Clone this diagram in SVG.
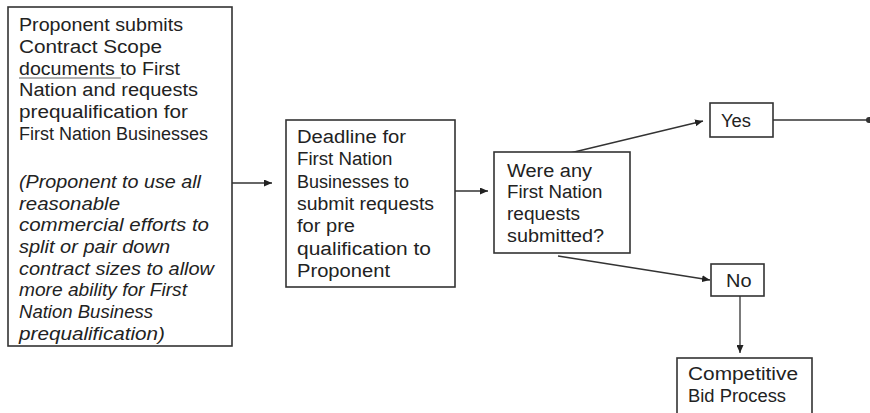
<svg xmlns="http://www.w3.org/2000/svg" width="870" height="413" viewBox="0 0 870 413">
<defs>
<style>
.box{fill:#fff;stroke:#333;stroke-width:1.6}
.t{font-family:"Liberation Sans",Arial,sans-serif;font-size:18px;fill:#222}
.i{font-style:italic}
.c{fill:none;stroke:#333;stroke-width:1.3}
</style>
<marker id="ah" markerUnits="userSpaceOnUse" markerWidth="9" markerHeight="7" refX="8" refY="3.5" orient="auto">
<path d="M0,0 L8,3.5 L0,7 z" fill="#222"/>
</marker>
</defs>
<rect width="870" height="413" fill="#fff"/>
<g id="connectors">
<line class="c" x1="232" y1="183" x2="272" y2="183" marker-end="url(#ah)"/>
<line class="c" x1="455" y1="191" x2="488" y2="191" marker-end="url(#ah)"/>
<line class="c" x1="570" y1="153" x2="703" y2="121" marker-end="url(#ah)"/>
<line class="c" x1="558" y1="256" x2="710" y2="280" marker-end="url(#ah)"/>
<line class="c" x1="773" y1="120" x2="867" y2="120"/>
<circle cx="869" cy="120" r="3" fill="#333"/>
<line class="c" x1="740" y1="296" x2="740" y2="353" marker-end="url(#ah)"/>
</g>
<g id="node-submit">
<rect class="box" x="8" y="7" width="224" height="339"/>
<text class="t" x="19" y="31" textLength="164" lengthAdjust="spacingAndGlyphs">Proponent submits</text>
<text class="t" x="19" y="52.8" textLength="143" lengthAdjust="spacingAndGlyphs">Contract Scope</text>
<text class="t" x="19" y="74.6" textLength="161" lengthAdjust="spacingAndGlyphs">documents to First</text>
<line x1="19" y1="78" x2="121" y2="78" stroke="#999" stroke-width="1.5"/>
<text class="t" x="19" y="96.4" textLength="179" lengthAdjust="spacingAndGlyphs">Nation and requests</text>
<text class="t" x="19" y="118.2" textLength="169" lengthAdjust="spacingAndGlyphs">prequalification for</text>
<text class="t" x="19" y="140" textLength="189" lengthAdjust="spacingAndGlyphs">First Nation Businesses</text>
<text class="t i" x="19" y="188" textLength="182" lengthAdjust="spacingAndGlyphs">(Proponent to use all</text>
<text class="t i" x="19" y="209.6" textLength="101" lengthAdjust="spacingAndGlyphs">reasonable</text>
<text class="t i" x="19" y="231.3" textLength="190" lengthAdjust="spacingAndGlyphs">commercial efforts to</text>
<text class="t i" x="19" y="252.9" textLength="151" lengthAdjust="spacingAndGlyphs">split or pair down</text>
<text class="t i" x="19" y="274.6" textLength="195" lengthAdjust="spacingAndGlyphs">contract sizes to allow</text>
<text class="t i" x="19" y="296.2" textLength="168" lengthAdjust="spacingAndGlyphs">more ability for First</text>
<text class="t i" x="19" y="317.9" textLength="134" lengthAdjust="spacingAndGlyphs">Nation Business</text>
<text class="t i" x="19" y="339.5" textLength="146" lengthAdjust="spacingAndGlyphs">prequalification)</text>
</g>
<g id="node-deadline">
<rect class="box" x="286" y="120" width="169" height="167"/>
<text class="t" x="297" y="143" textLength="109" lengthAdjust="spacingAndGlyphs">Deadline for</text>
<text class="t" x="297" y="165.3" textLength="95.5" lengthAdjust="spacingAndGlyphs">First Nation</text>
<text class="t" x="297" y="187.6" textLength="112" lengthAdjust="spacingAndGlyphs">Businesses to</text>
<text class="t" x="297" y="209.9" textLength="137" lengthAdjust="spacingAndGlyphs">submit requests</text>
<text class="t" x="297" y="232.2" textLength="58" lengthAdjust="spacingAndGlyphs">for pre</text>
<text class="t" x="297" y="254.5" textLength="134" lengthAdjust="spacingAndGlyphs">qualification to</text>
<text class="t" x="297" y="276.8" textLength="93" lengthAdjust="spacingAndGlyphs">Proponent</text>
</g>
<g id="node-question">
<rect class="box" x="494" y="152" width="136" height="101"/>
<text class="t" x="507" y="176.5" textLength="85" lengthAdjust="spacingAndGlyphs">Were any</text>
<text class="t" x="507" y="198.2" textLength="95.5" lengthAdjust="spacingAndGlyphs">First Nation</text>
<text class="t" x="507" y="219.9" textLength="73" lengthAdjust="spacingAndGlyphs">requests</text>
<text class="t" x="507" y="241.6" textLength="97" lengthAdjust="spacingAndGlyphs">submitted?</text>
</g>
<g id="node-yes">
<rect class="box" x="710" y="103" width="63" height="34"/>
<text class="t" x="721" y="127" textLength="30" lengthAdjust="spacingAndGlyphs">Yes</text>
</g>
<g id="node-no">
<rect class="box" x="711" y="264" width="53" height="32"/>
<text class="t" x="726" y="287" textLength="25.5" lengthAdjust="spacingAndGlyphs">No</text>
</g>
<g id="node-competitive">
<rect class="box" x="677" y="358" width="135" height="70"/>
<text class="t" x="688" y="380" textLength="110" lengthAdjust="spacingAndGlyphs">Competitive</text>
<text class="t" x="688" y="402" textLength="98" lengthAdjust="spacingAndGlyphs">Bid Process</text>
</g>
</svg>
